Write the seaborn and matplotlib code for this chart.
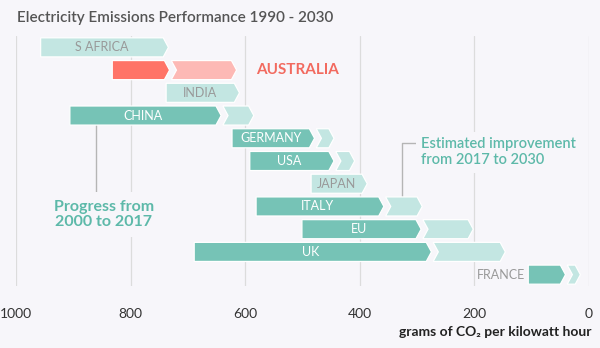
import numpy as np
import pandas as pd
import seaborn as sns
import matplotlib
matplotlib.use("Agg")
import matplotlib.pyplot as plt
from matplotlib.patches import Polygon, Rectangle

# ---- data (grams of CO2 per kWh) ----
countries = ["S AFRICA", "AUSTRALIA", "INDIA", "CHINA", "GERMANY", "USA",
             "JAPAN", "ITALY", "EU", "UK", "FRANCE"]
v2000 = [np.nan, 832, np.nan, 906, 623, 592, np.nan, 581, 501, 689, 106]
v2017 = [957, 732, 738, 642, 479, 445, 485, 358, 293, 275, 41]
v2030 = [734, 615, 610, 585, 445, 409, 387, 291, 202, 146, 15]
ticks = [1000, 800, 600, 400, 200, 0]

BG = "#F7F6FA"
TEAL = "#76C3B6"
TEAL_L = "#C3E6E2"
RED = "#FF7467"
RED_L = "#FDB9B5"
ANN = "#5DB9A9"
GRID = "#DCDCDC"

sns.set_style("white")
plt.rcParams["font.family"] = ["Lato", "DejaVu Sans"]

df = pd.DataFrame({"country": countries, "y2000": v2000,
                   "y2017": v2017, "y2030": v2030})
df["prog"] = df["y2017"] - df["y2000"]
df["est"] = df["y2030"] - df["y2017"]
dark = df.dropna(subset=["y2000"]).reset_index(drop=True)

fig = plt.figure(figsize=(6, 3.48), dpi=100)
fig.patch.set_facecolor(BG)
ax = fig.add_axes([16 / 600, 1 - 286 / 348, 573 / 600, 250 / 348])
ax.set_facecolor(BG)

sns.barplot(data=dark, y="country", x="prog", order=countries, orient="y",
            errorbar=None, width=0.84, color=TEAL, left=dark["y2000"].values,
            ax=ax)
n_dark = len(ax.patches)
sns.barplot(data=df, y="country", x="est", order=countries, orient="y",
            errorbar=None, width=0.84, color=TEAL_L, left=df["y2017"].values,
            ax=ax)

rects = [p for p in ax.patches if isinstance(p, Rectangle)]
t = 9.0   # chevron tip length (data units)
g = 3.0   # gap between segments
has_dark = set(dark["country"])
for i, r in enumerate(rects):
    x0, w = r.get_x(), r.get_width()
    y0, h = r.get_y(), r.get_height()
    if not np.isfinite(w) or not np.isfinite(x0):
        r.remove()
        continue
    end = x0 + w
    y1, ym = y0 + h, y0 + h / 2
    row = int(round(ym))
    name = countries[row]
    is_dark = i < n_dark
    if is_dark:
        pts = [(x0, y0), (end + t, y0), (end, ym), (end + t, y1), (x0, y1)]
        fc = RED if name == "AUSTRALIA" else TEAL
    else:
        if name in has_dark:
            pts = [(x0 - g, y0), (end + t, y0), (end, ym), (end + t, y1),
                   (x0 - g, y1), (x0 - g - t, ym)]
        else:
            pts = [(x0, y0), (end + t, y0), (end, ym), (end + t, y1), (x0, y1)]
        fc = RED_L if name == "AUSTRALIA" else TEAL_L
    ax.add_patch(Polygon(pts, closed=True, facecolor=fc, edgecolor="white",
                         linewidth=0.9, zorder=3))
    r.remove()

# ---- bar labels ----
LBL = dict(fontsize=9, fontweight="normal", zorder=5, va="center")
for row, rec in df.iterrows():
    name = rec["country"]
    if name == "AUSTRALIA":
        ax.annotate(name, (rec["y2030"], row), xytext=(14, 0),
                    textcoords="offset points", ha="left", va="center",
                    color="#F26A5F", fontsize=11, fontweight="bold", zorder=5)
    elif name == "FRANCE":
        ax.annotate(name, (rec["y2000"], row), xytext=(-2, 0),
                    textcoords="offset points", ha="right", color="#999999",
                    **LBL)
    elif np.isfinite(rec["y2000"]):
        ax.text((rec["y2000"] + rec["y2017"] + t) / 2, row, name, ha="center",
                color="white", **LBL)
    else:
        ax.text((rec["y2017"] + rec["y2030"] + t) / 2, row, name, ha="center",
                color="#999999", **LBL)

# ---- annotations ----
ax.plot([860, 860], [3.42, 6.35], color="#B5B5B5", lw=1, zorder=2)
ax.text(847, 7.36, "Progress from\n2000 to 2017", ha="center", va="center",
        color=ANN, fontsize=11.5, fontweight="bold", linespacing=1.05,
        zorder=4, bbox=dict(facecolor=BG, edgecolor="none", pad=6))
ax.plot([300, 327, 327], [4.22, 4.22, 6.58], color="#B5B5B5", lw=1, zorder=2)
ax.text(293, 4.62, "Estimated improvement\nfrom 2017 to 2030", ha="left",
        va="center", color=ANN, fontsize=10.5, fontweight="semibold",
        linespacing=1.2, zorder=4,
        bbox=dict(facecolor=BG, edgecolor="none", pad=4))

# ---- axes styling ----
ax.set_xlim(1000, 0)
ax.set_ylim(10.5, -0.5)
ax.set_xticks(ticks)
ax.set_xticklabels([str(v) for v in ticks])
ax.tick_params(axis="x", length=0, pad=16, labelsize=10, labelcolor="#333333")
ax.tick_params(axis="y", left=False, labelleft=False)
ax.set_ylabel("")
ax.grid(axis="x", color=GRID, lw=0.9, zorder=0)
ax.set_axisbelow(True)
for s in ax.spines.values():
    s.set_visible(False)
ax.set_xlabel("grams of CO₂ per kilowatt hour", fontsize=10,
              fontweight="bold", color="#222222")
ax.xaxis.label.set_ha("right")
ax.xaxis.label.set_va("center")
ax.xaxis.set_label_coords(1.004, -0.184)

fig.text(17 / 600, 1 - 18 / 348, "Electricity Emissions Performance 1990 - 2030",
         ha="left", va="center", fontsize=11, color="#555555",
         fontweight="semibold")

fig.savefig("out.png", dpi=100, facecolor=BG)
